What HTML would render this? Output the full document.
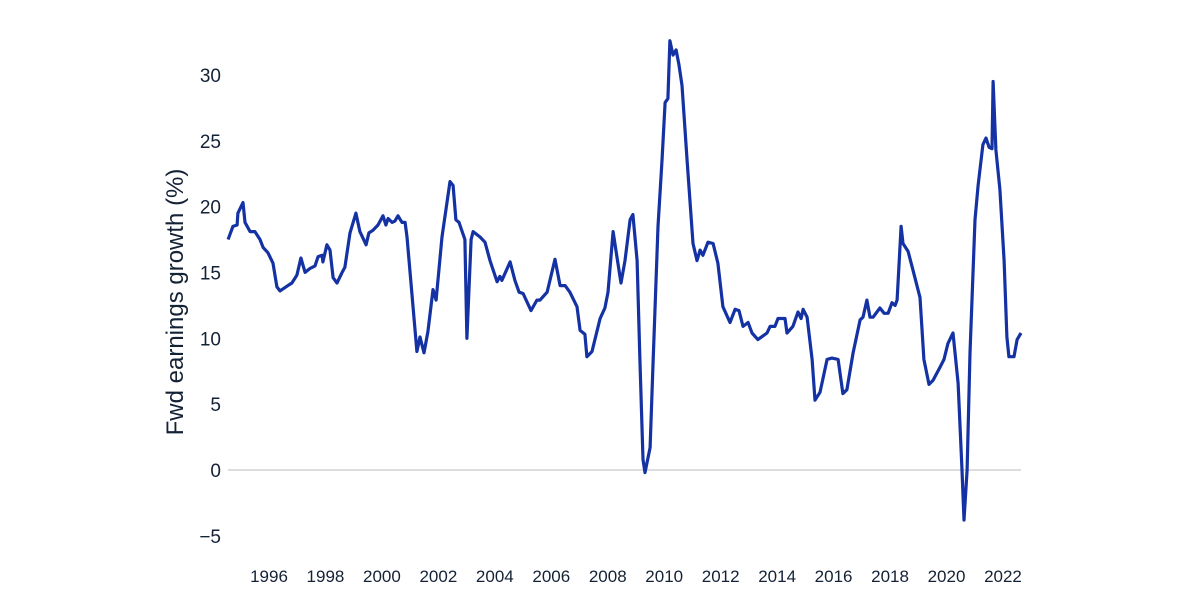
<!DOCTYPE html>
<html><head><meta charset="utf-8"><style>
body{margin:0;background:#fff;width:1200px;height:600px;overflow:hidden}
svg{display:block;font-family:"Liberation Sans",sans-serif}
</style></head><body>
<svg id="chart" width="1200" height="600" viewBox="0 0 1200 600">
<g id="yaxis"></g>
<g id="xaxis"></g>
<text transform="translate(183,302) rotate(-90)" text-anchor="middle" font-size="24" fill="#142236">Fwd earnings growth (%)</text>
<g id="plot"></g>
</svg>
<script>
const years=[1994.55,1994.72,1994.87,1994.90,1995.08,1995.15,1995.33,1995.50,1995.68,1995.79,1995.96,1996.14,1996.28,1996.39,1996.67,1996.81,1996.99,1997.13,1997.28,1997.45,1997.63,1997.74,1997.88,1997.91,1998.05,1998.16,1998.27,1998.41,1998.59,1998.69,1998.87,1999.08,1999.22,1999.44,1999.54,1999.68,1999.86,2000.04,2000.14,2000.22,2000.36,2000.46,2000.57,2000.71,2000.82,2000.89,2001.24,2001.35,2001.49,2001.63,2001.81,2001.92,2002.13,2002.41,2002.52,2002.62,2002.73,2002.94,2003.01,2003.16,2003.23,2003.47,2003.65,2003.83,2004.08,2004.18,2004.25,2004.54,2004.71,2004.86,2005.00,2005.28,2005.49,2005.60,2005.85,2006.13,2006.31,2006.49,2006.66,2006.91,2007.02,2007.19,2007.26,2007.44,2007.73,2007.90,2008.01,2008.19,2008.33,2008.47,2008.61,2008.79,2008.89,2009.04,2009.14,2009.25,2009.32,2009.50,2009.60,2009.78,2009.92,2010.03,2010.13,2010.20,2010.31,2010.42,2010.52,2010.63,2010.81,2011.02,2011.16,2011.27,2011.37,2011.55,2011.73,2011.90,2012.08,2012.33,2012.51,2012.65,2012.79,2012.97,2013.11,2013.32,2013.64,2013.75,2013.92,2014.03,2014.28,2014.35,2014.56,2014.74,2014.85,2014.92,2015.06,2015.24,2015.34,2015.52,2015.77,2015.94,2016.16,2016.33,2016.47,2016.69,2016.94,2017.04,2017.18,2017.29,2017.40,2017.64,2017.79,2017.93,2018.07,2018.18,2018.25,2018.39,2018.46,2018.64,2018.81,2019.06,2019.20,2019.38,2019.52,2019.77,2019.91,2020.05,2020.23,2020.41,2020.55,2020.62,2020.73,2020.83,2021.01,2021.12,2021.29,2021.40,2021.51,2021.61,2021.65,2021.75,2021.89,2022.04,2022.14,2022.21,2022.39,2022.50,2022.64];
const growth=[17.5,18.5,18.6,19.5,20.3,18.8,18.1,18.1,17.5,16.9,16.5,15.7,13.9,13.6,14.0,14.2,14.8,16.1,15.0,15.3,15.5,16.2,16.3,15.8,17.1,16.7,14.6,14.2,15.0,15.4,18.0,19.5,18.1,17.1,18.0,18.2,18.6,19.3,18.6,19.1,18.8,18.9,19.3,18.8,18.8,17.7,9.0,10.1,8.9,10.5,13.7,12.9,17.7,21.9,21.6,19.0,18.8,17.5,10.0,17.5,18.1,17.7,17.3,15.9,14.3,14.7,14.4,15.8,14.4,13.5,13.4,12.1,12.9,12.9,13.5,16.0,14.0,14.0,13.5,12.4,10.6,10.3,8.6,9.0,11.5,12.3,13.5,18.1,16.1,14.2,15.9,19.0,19.4,15.9,8.4,0.8,-0.2,1.7,7.8,18.5,23.5,27.9,28.2,32.6,31.5,31.9,30.8,29.2,23.5,17.2,15.9,16.7,16.3,17.3,17.2,15.7,12.4,11.2,12.2,12.1,10.9,11.2,10.4,9.9,10.4,10.9,10.9,11.5,11.5,10.4,10.9,12.0,11.5,12.2,11.6,8.4,5.3,5.9,8.4,8.5,8.4,5.8,6.1,8.9,11.4,11.6,12.9,11.6,11.6,12.3,11.9,11.9,12.7,12.5,12.9,18.5,17.2,16.6,15.2,13.1,8.4,6.5,6.8,7.8,8.4,9.6,10.4,6.6,0,-3.8,0,8.9,19.0,21.6,24.7,25.2,24.5,24.4,29.5,24.3,21.3,15.9,10.1,8.6,8.6,9.9,10.4];
const yTicks=[-5,0,5,10,15,20,25,30];
const xTicks=[1996,1998,2000,2002,2004,2006,2008,2010,2012,2014,2016,2018,2020,2022];
const NS="http://www.w3.org/2000/svg";
const xS=v=>269+(v-1996)*28.23;
const yS=v=>470-v*13.17;
const yax=document.getElementById('yaxis'),xax=document.getElementById('xaxis'),plot=document.getElementById('plot');
yTicks.forEach(t=>{const e=document.createElementNS(NS,'text');


e.setAttribute('x',221);e.setAttribute('y',yS(t)+7);e.setAttribute('text-anchor','end');e.setAttribute('font-size','19');e.setAttribute('fill','#142236');e.textContent=t===-5?'\u22125':t;yax.appendChild(e);});
xTicks.forEach(t=>{const e=document.createElementNS(NS,'text');


e.setAttribute('x',xS(t));e.setAttribute('y',582);e.setAttribute('text-anchor','middle');e.setAttribute('font-size','17');e.setAttribute('fill','#142236');e.textContent=t;xax.appendChild(e);});
const z=document.createElementNS(NS,'line');


z.setAttribute('x1',228);z.setAttribute('x2',1021);z.setAttribute('y1',yS(0));z.setAttribute('y2',yS(0));z.setAttribute('stroke','#bbbbbb');z.setAttribute('stroke-width','1');plot.appendChild(z);
const p=document.createElementNS(NS,'path');


p.setAttribute('d',years.map((y,i)=>(i?'L':'M')+xS(y).toFixed(1)+','+yS(growth[i]).toFixed(1)).join(''));
p.setAttribute('fill','none');p.setAttribute('stroke','#1432a3');p.setAttribute('stroke-width','3.2');p.setAttribute('stroke-linejoin','round');
plot.appendChild(p);
</script>
</body></html>
